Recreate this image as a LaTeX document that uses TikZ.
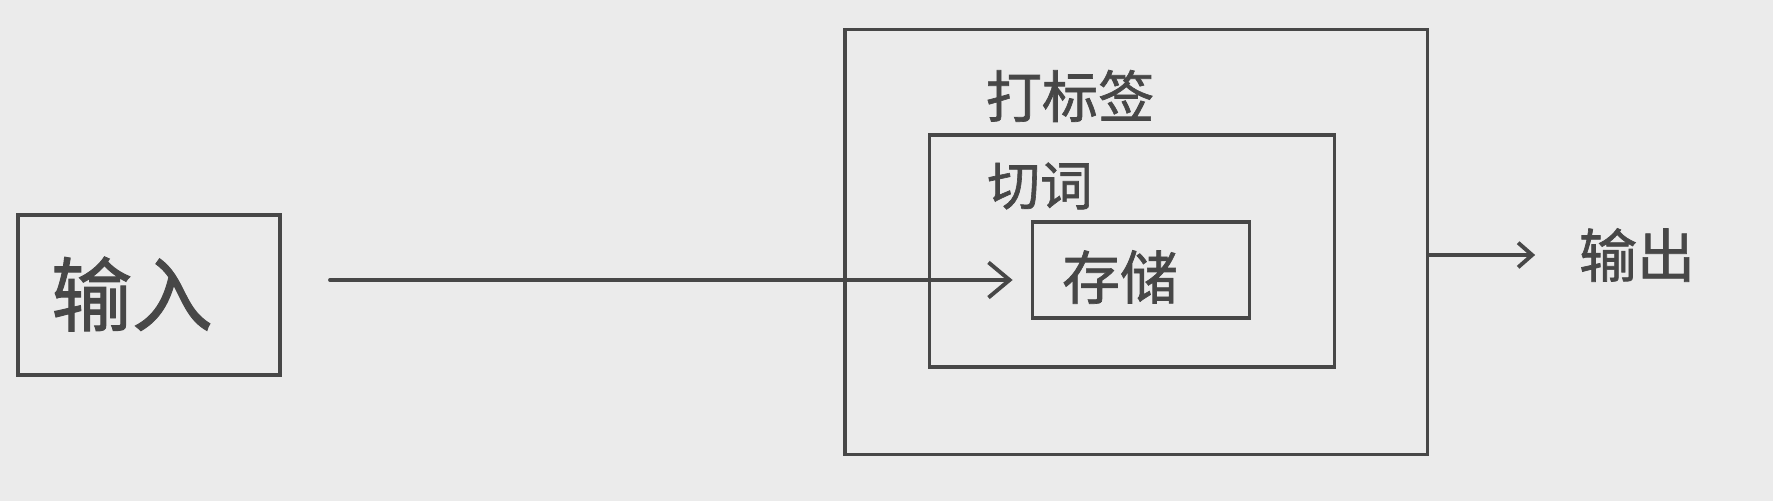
\documentclass[tikz,border=0pt]{standalone}
\usepackage{fontspec}
\newfontfamily\cjk{Noto Sans CJK SC}[FakeBold=1.2]
\usetikzlibrary{arrows.meta,positioning}
\definecolor{ink}{HTML}{474747}
\definecolor{paper}{HTML}{EBEBEB}

\begin{document}
\begin{tikzpicture}[x=0.02cm,y=-0.02cm,ink,line width=2.2pt,line cap=round,
    box/.style={draw,inner sep=0pt},
    txt/.style={font=\cjk\fontsize{30}{30}\selectfont,inner sep=0pt},
    >={Straight Barb[length=12pt,width=20pt]}]
    \fill[paper] (0,0) rectangle (1773,501);
    \useasboundingbox (0,0) rectangle (1773,501);

    % boxes
    \node[box,minimum width=5.24cm,minimum height=3.2cm]  (in)  at (149,295)  {};
    \node[box,minimum width=11.66cm,minimum height=8.5cm] (tag) at (1136,242) {};
    \node[box,minimum width=8.1cm,minimum height=4.64cm]  (cut) at (1132,251) {};
    \node[box,minimum width=4.34cm,minimum height=1.92cm] (st)  at (1141,270) {};

    % labels
    \node[txt,font=\cjk\fontsize{46}{46}\selectfont] (int) at (132,294)  {输入};
    \node[txt,font=\cjk\fontsize{32}{32}\selectfont] (tagt) at (1070,96) {打标签};
    \node[txt]                                       (cutt) at (1040,186) {切词};
    \node[txt,font=\cjk\fontsize{33}{33}\selectfont] (stt)  at (1120,277) {存储};
    \node[txt,font=\cjk\fontsize{33}{33}\selectfont] (out)  at (1637,255) {输出};

    % arrows
    \coordinate (a0) at (330,280);
    \draw[->,shorten >=0.36cm] (a0) -- (a0 -| st.west);
    \coordinate (o0) at ([yshift=-0.26cm]tag.east);
    \draw[-{Straight Barb[length=8pt,width=14pt]},shorten >=0.84cm] (o0) -- (o0 -| out.west);
\end{tikzpicture}
\end{document}
